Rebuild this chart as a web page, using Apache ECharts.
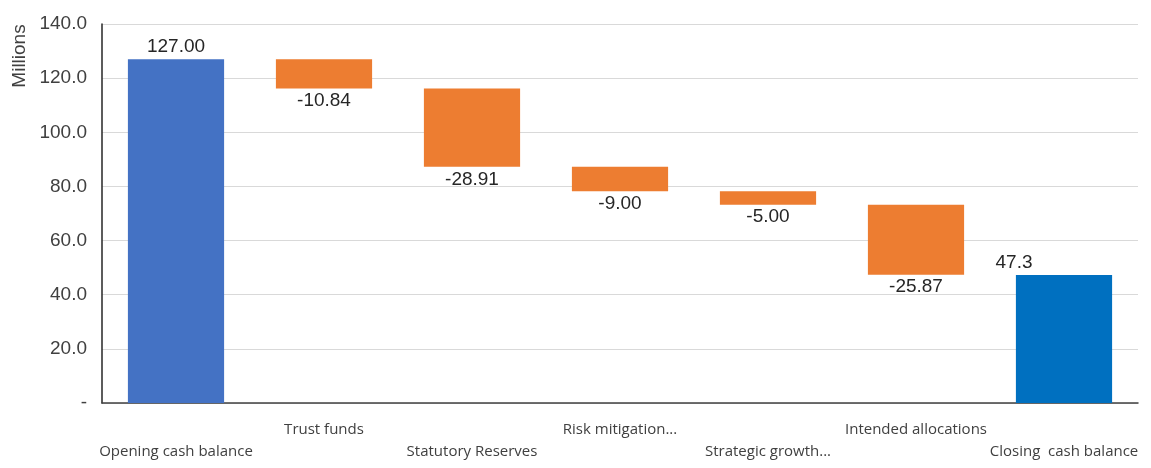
<!DOCTYPE html>
<html>
<head>
<meta charset="utf-8">
<script src="https://cdn.jsdelivr.net/npm/echarts@6/dist/echarts.min.js"></script>
<style>
  html, body { margin: 0; padding: 0; background: #fff; }
  #chart { width: 1151px; height: 468px; }
</style>
</head>
<body>
<div id="chart"></div>
<script>
// Cash waterfall, in millions
const categories = [
  'Opening cash balance',
  'Trust funds',
  'Statutory Reserves',
  'Risk mitigation...',
  'Strategic growth...',
  'Intended allocations',
  'Closing  cash balance'
];
const openingBalance = 127.00;
const movements = [-10.84, -28.91, -9.00, -5.00, -25.87];
const closingBalance = 47.3;
const yTicks = { min: 0, max: 140, interval: 20 };

// Build invisible base + visible segment for each column
const baseData = [];
const valueData = [];
let running = openingBalance;
baseData.push(0);
valueData.push({ value: openingBalance, label: openingBalance.toFixed(2), kind: 'open', color: '#4472C4' });
movements.forEach(function (m) {
  const next = running + m;
  baseData.push(Math.min(running, next));
  valueData.push({ value: Math.abs(m), label: m.toFixed(2), kind: 'move', color: '#ED7D31' });
  running = next;
});
baseData.push(0);
valueData.push({ value: closingBalance, label: String(closingBalance), kind: 'close', color: '#0070C0' });

const chart = echarts.init(document.getElementById('chart'), null, { renderer: 'canvas' });

const valueFont = '"Liberation Sans", Arial, sans-serif';

chart.setOption({
  animation: false,
  backgroundColor: '#ffffff',
  grid: { left: 102, right: 13, top: 24, bottom: 65, containLabel: false },
  graphic: [{
    type: 'text',
    x: 20, y: 56,
    rotation: Math.PI / 2,
    style: {
      text: 'Millions',
      font: '19px "Liberation Sans", Arial, sans-serif',
      fill: '#404040',
      textAlign: 'center',
      textVerticalAlign: 'middle'
    }
  }],
  xAxis: {
    type: 'category',
    data: categories,
    axisTick: { show: false },
    axisLine: { show: true, lineStyle: { color: '#404040', width: 1.5 } },
    axisLabel: {
      interval: 0,
      margin: 0,
      formatter: function (v, i) {
        return (i % 2 === 0 ? '{lo|' : '{hi|') + v + '}';
      },
      rich: {
        hi: { fontSize: 15, fontFamily: '"Open Sans", sans-serif', color: '#404040', padding: [19, 0, 0, 0] },
        lo: { fontSize: 15, fontFamily: '"Open Sans", sans-serif', color: '#404040', padding: [41, 0, 0, 0] }
      }
    }
  },
  yAxis: {
    type: 'value',
    min: yTicks.min,
    max: yTicks.max,
    interval: yTicks.interval,
    axisLine: { show: true, lineStyle: { color: '#262626', width: 1.5 } },
    axisTick: { show: false },
    splitLine: { lineStyle: { color: '#d9d9d9', width: 1 } },
    axisLabel: {
      margin: 15,
      fontSize: 19,
      fontFamily: valueFont,
      color: '#404040',
      formatter: function (v) { return v === 0 ? '-' : v.toFixed(1); }
    }
  },
  series: [
    {
      type: 'bar',
      stack: 'w',
      data: baseData,
      itemStyle: { color: 'transparent' },
      barCategoryGap: '35%',
      silent: true
    },
    {
      type: 'bar',
      stack: 'w',
      barCategoryGap: '35%',
      data: valueData.map(function (d) {
        return {
          value: d.value,
          itemStyle: { color: d.color },
          label: {
            show: true,
            position: d.kind === 'move' ? 'bottom' : 'top',
            distance: d.kind === 'move' ? 3 : 3,
            offset: d.kind === 'close' ? [-50, 0] : [0, 0],
            formatter: d.label,
            fontSize: 19,
            fontFamily: valueFont,
            color: '#262626'
          }
        };
      })
    }
  ]
});
</script>
</body>
</html>
